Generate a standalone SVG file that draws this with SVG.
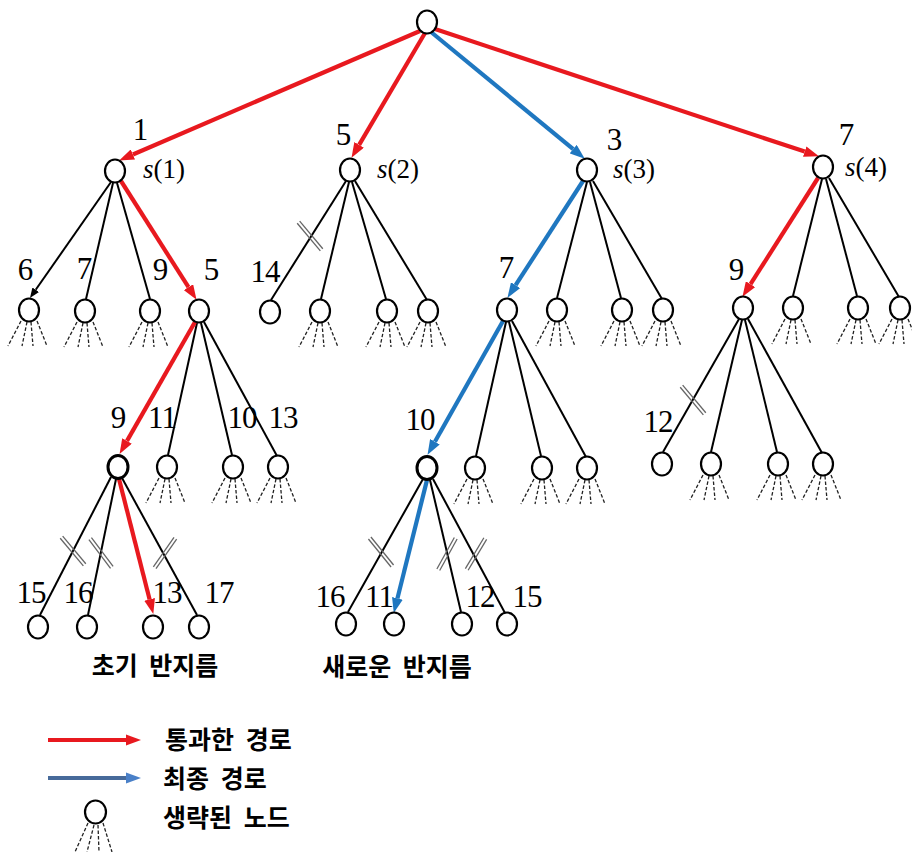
<svg xmlns="http://www.w3.org/2000/svg" xmlns:xlink="http://www.w3.org/1999/xlink" width="912" height="852" viewBox="0 0 912 852">
<style>
.nd{fill:#fff;stroke:#000;stroke-width:2.2}
.ndb{fill:#fff;stroke:#000;stroke-width:3}
.e{stroke:#000;stroke-width:2;fill:none}
.r{stroke:#E8191F;stroke-width:4.2;fill:none;marker-end:url(#ar)}
.b{stroke:#1F77C0;stroke-width:4.2;fill:none;marker-end:url(#ab)}
.ek{stroke:#000;stroke-width:2;fill:none;marker-end:url(#ak)}
.num{font-family:"Liberation Serif","Times New Roman",serif;font-size:31px;fill:#000;text-anchor:middle;letter-spacing:-1px}
.sl{font-family:"Liberation Serif","Times New Roman",serif;font-size:27px;fill:#000}
.kr{font-family:"Noto Sans CJK KR","Noto Sans",sans-serif;font-size:25px;font-weight:bold;fill:#000;word-spacing:6px}
.fan line{stroke:#222;stroke-width:1.3;stroke-dasharray:3.5 2}
.cut line{stroke:#666;stroke-width:1.3}
</style>
<defs>
<marker id="ar" markerUnits="userSpaceOnUse" markerWidth="15" markerHeight="11" refX="0" refY="5.5" orient="auto"><path d="M0,0 L15,5.5 L0,11 z" fill="#E8191F"/></marker>
<marker id="ab" markerUnits="userSpaceOnUse" markerWidth="15" markerHeight="11" refX="0" refY="5.5" orient="auto"><path d="M0,0 L15,5.5 L0,11 z" fill="#1F77C0"/></marker>
<marker id="ak" markerUnits="userSpaceOnUse" markerWidth="10" markerHeight="8" refX="0" refY="4" orient="auto"><path d="M0,0 L10,4 L0,8 z" fill="#000"/></marker>
<g id="fan" class="fan"><line x1="-8" y1="11" x2="-21" y2="36"/><line x1="-2" y1="12" x2="-7" y2="36"/><line x1="2" y1="12" x2="4" y2="36"/><line x1="8" y1="11" x2="18" y2="36"/></g>
<g id="cut" class="cut"><line x1="-18" y1="-1.6" x2="18" y2="-1.6"/><line x1="-18" y1="1.6" x2="18" y2="1.6"/></g>
</defs>
<rect width="912" height="852" fill="#fff"/>

<g id="connectors">
<path class="ek" d="M111,182 L35.7,289.8"/>
<path class="e" d="M113,183 L86,299"/>
<path class="e" d="M117,183 L150,299"/>
<path class="e" d="M346,181 L271,300"/>
<path class="e" d="M349,182 L321,299"/>
<path class="e" d="M352,182 L386,299"/>
<path class="e" d="M355,181 L427,300"/>
<path class="e" d="M587,182 L557,298"/>
<path class="e" d="M590,182 L621,298"/>
<path class="e" d="M593,181 L662,299"/>
<path class="e" d="M822,179 L793,296"/>
<path class="e" d="M826,179 L857,296"/>
<path class="e" d="M829,178 L899,297"/>
<path class="e" d="M197,323 L168,455"/>
<path class="e" d="M201,323 L232,455"/>
<path class="e" d="M204,322 L277,456"/>
<path class="e" d="M506,322 L476,456"/>
<path class="e" d="M509,322 L541,456"/>
<path class="e" d="M512,321 L586,457"/>
<path class="e" d="M739,319 L663,452"/>
<path class="e" d="M742,320 L711,452"/>
<path class="e" d="M745,320 L777,452"/>
<path class="e" d="M748,319 L822,453"/>
<path class="e" d="M111,477 L40,615"/>
<path class="e" d="M116,479 L88,615"/>
<path class="e" d="M122,478 L197,615"/>
<path class="e" d="M423,479 L348,612"/>
<path class="e" d="M430,480 L461,612"/>
<path class="e" d="M433,479 L505,613"/>
<path class="r" d="M420,31 L132.9,154.5"/>
<path class="r" d="M425,33 L359.1,144.9"/>
<path class="r" d="M435,29 L804.7,151.6"/>
<path class="r" d="M121,181 L188.5,287.2"/>
<path class="r" d="M818,178 L750.5,284.2"/>
<path class="r" d="M195,322 L127,440.9"/>
<path class="r" d="M119,479 L149.6,599.4"/>
<path class="b" d="M431,32 L573.2,149.1"/>
<path class="b" d="M583,181 L515.6,285.2"/>
<path class="b" d="M503,321 L434.9,441.8"/>
<path class="b" d="M427,480 L397.4,598.4"/>
<use href="#cut" transform="translate(310,236) rotate(50)"/>
<use href="#cut" transform="translate(693,400) rotate(50)"/>
<use href="#cut" transform="translate(73,551) rotate(50)"/>
<use href="#cut" transform="translate(101,553) rotate(53)"/>
<use href="#cut" transform="translate(165,553) rotate(-55)"/>
<use href="#cut" transform="translate(381,552) rotate(51)"/>
<use href="#cut" transform="translate(447,554) rotate(-61)"/>
<use href="#cut" transform="translate(476,554) rotate(-59)"/>
</g>

<g id="root"><ellipse class="nd" cx="427" cy="22" rx="10" ry="11.5"/></g>

<g id="s1"><ellipse class="nd" cx="115" cy="171" rx="10" ry="11.5"/><text class="num" x="140" y="140">1</text><text class="sl" x="143" y="178"><tspan font-style="italic">s</tspan>(1)</text></g>
<g id="s2"><ellipse class="nd" cx="350" cy="170" rx="10" ry="11.5"/><text class="num" x="343" y="145">5</text><text class="sl" x="377" y="178"><tspan font-style="italic">s</tspan>(2)</text></g>
<g id="s3"><ellipse class="nd" cx="587" cy="170" rx="10" ry="11.5"/><text class="num" x="614" y="150">3</text><text class="sl" x="613" y="178"><tspan font-style="italic">s</tspan>(3)</text></g>
<g id="s4"><ellipse class="nd" cx="823" cy="167" rx="10" ry="11.5"/><text class="num" x="846" y="145">7</text><text class="sl" x="845" y="176"><tspan font-style="italic">s</tspan>(4)</text></g>

<g id="n2-1-1"><use href="#fan" x="29" y="310"/><ellipse class="nd" cx="29" cy="310" rx="10" ry="11.5"/><text class="num" x="25" y="280">6</text></g>
<g id="n2-1-2"><use href="#fan" x="85" y="311"/><ellipse class="nd" cx="85" cy="311" rx="10" ry="11.5"/><text class="num" x="84" y="279">7</text></g>
<g id="n2-1-3"><use href="#fan" x="150" y="311"/><ellipse class="nd" cx="150" cy="311" rx="10" ry="11.5"/><text class="num" x="160" y="280">9</text></g>
<g id="n2-1-4"><ellipse class="nd" cx="199" cy="311" rx="10" ry="11.5"/><text class="num" x="211" y="280">5</text></g>
<g id="n2-2-1"><ellipse class="nd" cx="270" cy="312" rx="10" ry="11.5"/><text class="num" x="265" y="282">14</text></g>
<g id="n2-2-2"><use href="#fan" x="320" y="311"/><ellipse class="nd" cx="320" cy="311" rx="10" ry="11.5"/></g>
<g id="n2-2-3"><use href="#fan" x="387" y="311"/><ellipse class="nd" cx="387" cy="311" rx="10" ry="11.5"/></g>
<g id="n2-2-4"><use href="#fan" x="428" y="311"/><ellipse class="nd" cx="428" cy="311" rx="10" ry="11.5"/></g>
<g id="n2-3-1"><ellipse class="nd" cx="507" cy="310" rx="10" ry="11.5"/><text class="num" x="506" y="278">7</text></g>
<g id="n2-3-2"><use href="#fan" x="557" y="310"/><ellipse class="nd" cx="557" cy="310" rx="10" ry="11.5"/></g>
<g id="n2-3-3"><use href="#fan" x="622" y="310"/><ellipse class="nd" cx="622" cy="310" rx="10" ry="11.5"/></g>
<g id="n2-3-4"><use href="#fan" x="663" y="310"/><ellipse class="nd" cx="663" cy="310" rx="10" ry="11.5"/></g>
<g id="n2-4-1"><ellipse class="nd" cx="743" cy="308" rx="10" ry="11.5"/><text class="num" x="736" y="280">9</text></g>
<g id="n2-4-2"><use href="#fan" x="793" y="308"/><ellipse class="nd" cx="793" cy="308" rx="10" ry="11.5"/></g>
<g id="n2-4-3"><use href="#fan" x="858" y="308"/><ellipse class="nd" cx="858" cy="308" rx="10" ry="11.5"/></g>
<g id="n2-4-4"><use href="#fan" x="900" y="308"/><ellipse class="nd" cx="900" cy="308" rx="10" ry="11.5"/></g>

<g id="n3-a1"><ellipse class="ndb" cx="118" cy="467" rx="10" ry="11.5"/><text class="num" x="118" y="428">9</text></g>
<g id="n3-a2"><use href="#fan" x="167" y="467"/><ellipse class="nd" cx="167" cy="467" rx="10" ry="11.5"/><text class="num" x="162" y="428">11</text></g>
<g id="n3-a3"><use href="#fan" x="233" y="467"/><ellipse class="nd" cx="233" cy="467" rx="10" ry="11.5"/><text class="num" x="242" y="428">10</text></g>
<g id="n3-a4"><use href="#fan" x="278" y="467"/><ellipse class="nd" cx="278" cy="467" rx="10" ry="11.5"/><text class="num" x="283" y="428">13</text></g>
<g id="n3-b1"><ellipse class="ndb" cx="427" cy="468" rx="10" ry="11.5"/><text class="num" x="420" y="430">10</text></g>
<g id="n3-b2"><use href="#fan" x="475" y="468"/><ellipse class="nd" cx="475" cy="468" rx="10" ry="11.5"/></g>
<g id="n3-b3"><use href="#fan" x="542" y="468"/><ellipse class="nd" cx="542" cy="468" rx="10" ry="11.5"/></g>
<g id="n3-b4"><use href="#fan" x="587" y="468"/><ellipse class="nd" cx="587" cy="468" rx="10" ry="11.5"/></g>
<g id="n3-c1"><ellipse class="nd" cx="662" cy="464" rx="10" ry="11.5"/><text class="num" x="658" y="432">12</text></g>
<g id="n3-c2"><use href="#fan" x="711" y="464"/><ellipse class="nd" cx="711" cy="464" rx="10" ry="11.5"/></g>
<g id="n3-c3"><use href="#fan" x="778" y="464"/><ellipse class="nd" cx="778" cy="464" rx="10" ry="11.5"/></g>
<g id="n3-c4"><use href="#fan" x="823" y="464"/><ellipse class="nd" cx="823" cy="464" rx="10" ry="11.5"/></g>

<g id="n4-a1"><ellipse class="nd" cx="38" cy="627" rx="10" ry="11.5"/><text class="num" x="31" y="603">15</text></g>
<g id="n4-a2"><ellipse class="nd" cx="87" cy="627" rx="10" ry="11.5"/><text class="num" x="78" y="603">16</text></g>
<g id="n4-a3"><ellipse class="nd" cx="153" cy="627" rx="10" ry="11.5"/><text class="num" x="167" y="603">13</text></g>
<g id="n4-a4"><ellipse class="nd" cx="199" cy="627" rx="10" ry="11.5"/><text class="num" x="219" y="603">17</text></g>
<g id="n4-b1"><ellipse class="nd" cx="346" cy="624" rx="10" ry="11.5"/><text class="num" x="330" y="607">16</text></g>
<g id="n4-b2"><ellipse class="nd" cx="394" cy="624" rx="10" ry="11.5"/><text class="num" x="379" y="607">11</text></g>
<g id="n4-b3"><ellipse class="nd" cx="462" cy="624" rx="10" ry="11.5"/><text class="num" x="480" y="607">12</text></g>
<g id="n4-b4"><ellipse class="nd" cx="507" cy="624" rx="10" ry="11.5"/><text class="num" x="527" y="607">15</text></g>

<g id="captions">
<text class="kr" x="155" y="675" text-anchor="middle">초기 반지름</text>
<text class="kr" x="397" y="676" text-anchor="middle">새로운 반지름</text>
</g>

<g id="legend">
<line x1="48" y1="740" x2="127" y2="740" stroke="#E8191F" stroke-width="4"/>
<polygon points="126,734.5 141,740 126,745.5" fill="#E8191F"/>
<text class="kr" x="165" y="749">통과한 경로</text>
<line x1="48" y1="778" x2="127" y2="778" stroke="#476A9A" stroke-width="4"/>
<polygon points="126,772.5 141,778 126,783.5" fill="#4A80C8"/>
<text class="kr" x="163" y="788">최종 경로</text>
<g class="fan"><line x1="88" y1="823" x2="75" y2="852"/><line x1="94" y1="825" x2="87" y2="852"/><line x1="98" y1="825" x2="99" y2="852"/><line x1="103" y1="823" x2="112" y2="852"/></g>
<ellipse class="nd" cx="95.5" cy="812" rx="10.5" ry="11.5"/>
<text class="kr" x="163" y="827">생략된 노드</text>
</g>
</svg>
